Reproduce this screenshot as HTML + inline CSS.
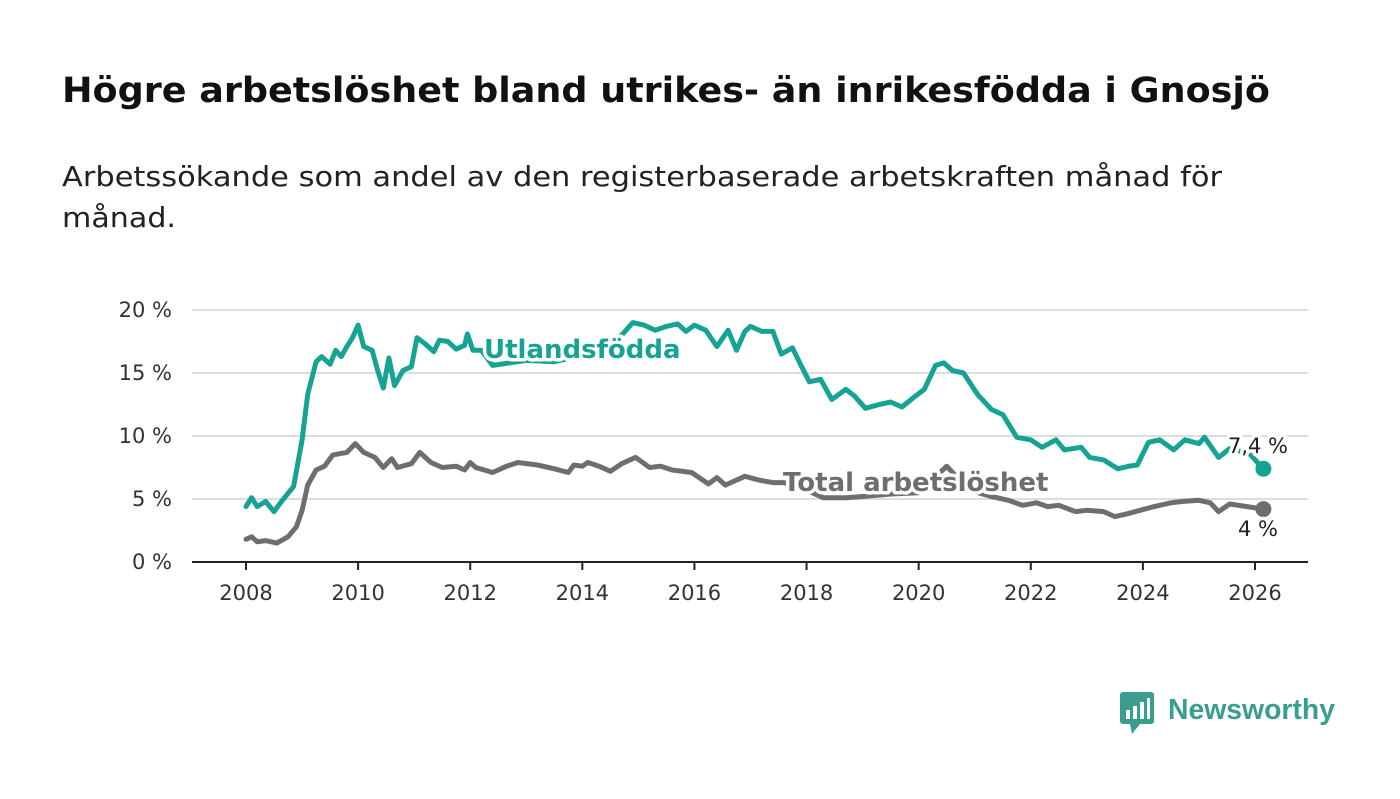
<!DOCTYPE html>
<html><head><meta charset="utf-8"><style>
body{margin:0;background:#fff;width:1400px;height:794px;overflow:hidden;font-family:"Liberation Sans","DejaVu Sans",sans-serif}
</style></head><body>
<svg width="1400" height="794" font-family="DejaVu Sans, Liberation Sans, sans-serif">
<text x="62" y="102" font-size="35" font-weight="bold" fill="#111" textLength="1208" lengthAdjust="spacingAndGlyphs">Högre arbetslöshet bland utrikes- än inrikesfödda i Gnosjö</text>
<text x="62" y="186" font-size="28" fill="#222" textLength="1160" lengthAdjust="spacingAndGlyphs">Arbetssökande som andel av den registerbaserade arbetskraften månad för</text>
<text x="62" y="227" font-size="28" fill="#222" textLength="114" lengthAdjust="spacingAndGlyphs">månad.</text>
<g id="grid"></g><g id="lines"></g><g id="labels"></g>
<g>
<rect x="1120" y="692" width="34" height="32" rx="3" fill="#3a9e8f"/>
<polygon points="1130,724 1140,724 1132,734" fill="#3a9e8f"/>
<rect x="1126" y="710" width="4" height="9" fill="#fff"/><rect x="1133" y="706" width="4" height="13" fill="#fff"/><rect x="1140" y="702" width="4" height="17" fill="#fff"/><rect x="1147" y="698" width="3" height="21" fill="#fff"/>
<text x="1168" y="719" font-size="29" font-weight="bold" fill="#3a9e8f" textLength="167" lengthAdjust="spacingAndGlyphs" font-family="Liberation Sans, sans-serif">Newsworthy</text>
</g>
</svg>
<script>
const yTicks=[0,5,10,15,20];
const xTicks=[2008,2010,2012,2014,2016,2018,2020,2022,2024,2026];
const foreignT=[2008.0,2008.1,2008.2,2008.35,2008.5,2008.65,2008.85,2009.0,2009.1,2009.25,2009.35,2009.5,2009.6,2009.7,2009.8,2009.9,2010.0,2010.1,2010.25,2010.35,2010.45,2010.55,2010.65,2010.8,2010.95,2011.05,2011.2,2011.35,2011.45,2011.6,2011.75,2011.9,2011.95,2012.05,2012.2,2012.4,2013.0,2013.5,2014.0,2014.4,2014.7,2014.9,2015.1,2015.3,2015.5,2015.7,2015.85,2016.0,2016.2,2016.4,2016.6,2016.75,2016.9,2017.0,2017.2,2017.4,2017.55,2017.75,2017.9,2018.05,2018.25,2018.45,2018.7,2018.85,2019.05,2019.3,2019.5,2019.7,2019.95,2020.1,2020.3,2020.45,2020.6,2020.8,2021.05,2021.3,2021.5,2021.75,2022.0,2022.2,2022.45,2022.6,2022.9,2023.05,2023.3,2023.55,2023.75,2023.9,2024.1,2024.3,2024.55,2024.75,2025.0,2025.1,2025.35,2025.55,2025.9,2026.15];
const foreignV=[4.4,5.1,4.4,4.8,4.0,4.9,6.0,9.7,13.3,15.9,16.3,15.7,16.8,16.3,17.1,17.8,18.8,17.1,16.8,15.2,13.8,16.2,14.0,15.2,15.5,17.8,17.3,16.7,17.6,17.5,16.9,17.2,18.1,16.8,16.8,15.6,16.0,15.9,16.4,17.2,18.0,19.0,18.8,18.4,18.7,18.9,18.3,18.8,18.4,17.1,18.4,16.8,18.3,18.7,18.3,18.3,16.5,17.0,15.6,14.3,14.5,12.9,13.7,13.2,12.2,12.5,12.7,12.3,13.2,13.7,15.6,15.8,15.2,15.0,13.3,12.1,11.7,9.9,9.7,9.1,9.7,8.9,9.1,8.3,8.1,7.4,7.6,7.7,9.5,9.7,8.9,9.7,9.4,9.9,8.3,9.0,8.6,7.4];
const totalT=[2008.0,2008.1,2008.2,2008.35,2008.55,2008.75,2008.9,2009.0,2009.1,2009.25,2009.4,2009.55,2009.8,2009.95,2010.1,2010.3,2010.45,2010.6,2010.7,2010.95,2011.1,2011.3,2011.5,2011.75,2011.9,2012.0,2012.1,2012.4,2012.65,2012.85,2013.2,2013.5,2013.75,2013.85,2014.0,2014.1,2014.3,2014.5,2014.7,2014.95,2015.2,2015.4,2015.6,2015.95,2016.25,2016.4,2016.55,2016.9,2017.15,2017.4,2017.6,2018.0,2018.3,2018.7,2019.0,2019.5,2020.0,2020.5,2020.9,2021.3,2021.6,2021.85,2022.1,2022.3,2022.5,2022.8,2023.0,2023.3,2023.5,2023.7,2023.95,2024.2,2024.5,2024.7,2025.0,2025.2,2025.35,2025.55,2026.15];
const totalV=[1.8,2.0,1.6,1.7,1.5,2.0,2.8,4.1,6.1,7.3,7.6,8.5,8.7,9.4,8.7,8.3,7.5,8.2,7.5,7.8,8.7,7.9,7.5,7.6,7.3,7.9,7.5,7.1,7.6,7.9,7.7,7.4,7.1,7.7,7.6,7.9,7.6,7.2,7.8,8.3,7.5,7.6,7.3,7.1,6.2,6.7,6.1,6.8,6.5,6.3,6.3,5.7,5.1,5.1,5.2,5.4,5.5,7.6,5.7,5.2,4.9,4.5,4.7,4.4,4.5,4.0,4.1,4.0,3.6,3.8,4.1,4.4,4.7,4.8,4.9,4.7,4.0,4.6,4.2];
const endLabels=["7,4 %","4 %"];
const X=t=>246+(t-2008)*(1255-246)/18;
const Y=v=>562-v*12.6;
const NS="http://www.w3.org/2000/svg";
function mk(tag,at,parent,txt){const e=document.createElementNS(NS,tag);for(const k in at)e.setAttribute(k,at[k]);if(txt!=null)e.textContent=txt;document.getElementById(parent).appendChild(e);return e;}
yTicks.forEach(v=>{
 if(v>0){const g=mk('line',{x1:192,x2:1308,y1:Y(v),y2:Y(v),stroke:'#ddd','stroke-width':2},'grid');
 
 }
 const t=mk('text',{x:172,y:Y(v)+7,'font-size':21,fill:'#333','text-anchor':'end'},'grid',v+' %');
 
 
});
const ax=mk('line',{x1:192,x2:1308,y1:562,y2:562,stroke:'#222','stroke-width':2},'grid');


xTicks.forEach(y=>{
 const l=mk('line',{x1:X(y),x2:X(y),y1:562,y2:570,stroke:'#222','stroke-width':2},'grid');
 
 
 const t=mk('text',{x:X(y),y:600,'font-size':21,fill:'#333','text-anchor':'middle'},'grid',y);
 
 
});
function line(T,V,col,name){
 const d=T.map((t,i)=>(i?'L':'M')+X(t).toFixed(1)+','+Y(V[i]).toFixed(1)).join('');
 const p=mk('path',{d:d,fill:'none',stroke:col,'stroke-width':5,'stroke-linejoin':'round','stroke-linecap':'round'},'lines');
 
 
 const n=T.length-1;
 const c=mk('circle',{cx:X(T[n]),cy:Y(V[n]),r:8,fill:col},'lines');
 
 
}
line(totalT,totalV,'#6e6e70','total');
line(foreignT,foreignV,'#16a394','foreign');
const halo={stroke:'#fff','stroke-width':7,'paint-order':'stroke','stroke-linejoin':'round'};
const l1=mk('text',Object.assign({x:484,y:358,'font-size':26,'font-weight':'bold',fill:'#16a394'},halo),'labels','Utlandsfödda');


const l2=mk('text',Object.assign({x:783,y:491,'font-size':26,'font-weight':'bold',fill:'#6e6e70'},halo),'labels','Total arbetslöshet');


const e1=mk('text',Object.assign({x:1258,y:453,'font-size':21,fill:'#222','text-anchor':'middle'},halo),'labels',endLabels[0]);


const e2=mk('text',Object.assign({x:1258,y:536,'font-size':21,fill:'#222','text-anchor':'middle'},halo),'labels',endLabels[1]);


</script>
</body></html>
